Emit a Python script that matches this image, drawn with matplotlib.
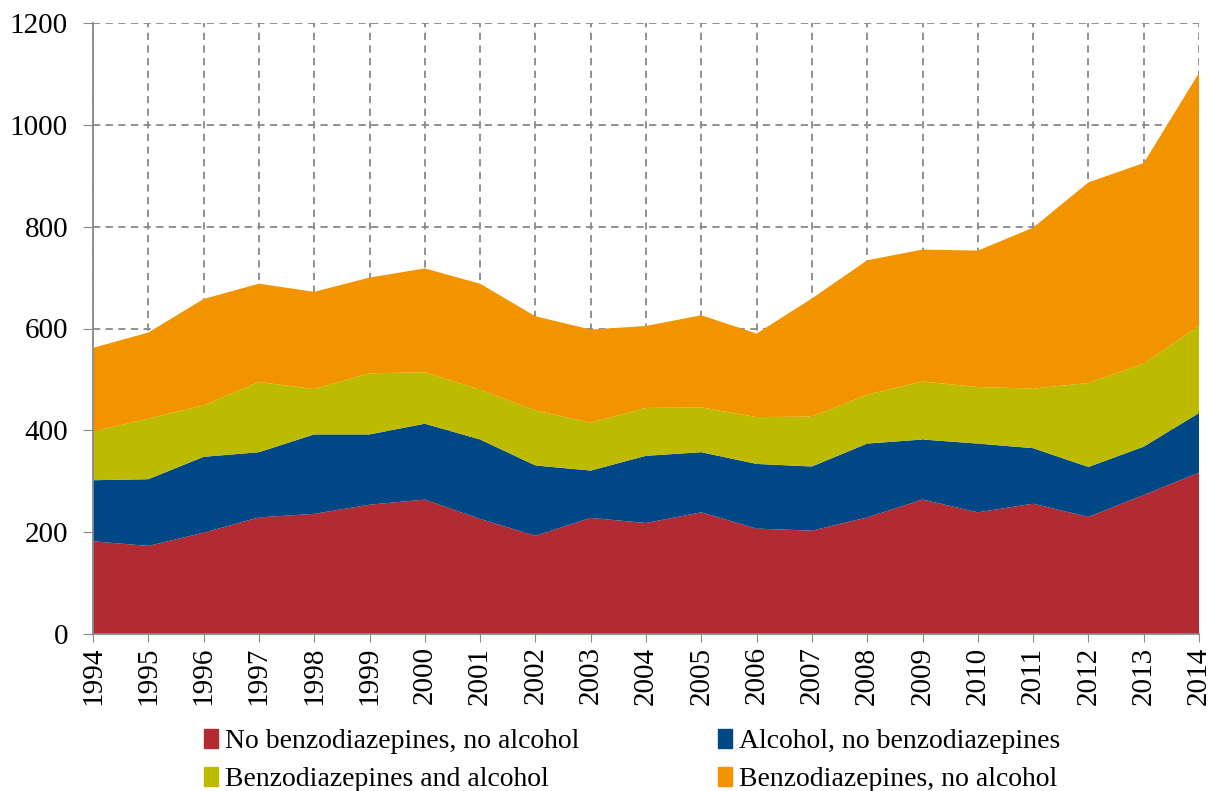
import matplotlib
matplotlib.use("Agg")
import matplotlib.pyplot as plt
from matplotlib.patches import Patch

years = list(range(1994, 2015))
no_benzo_no_alcohol = [182, 173, 199, 229, 236, 254, 264, 226, 193, 228, 218, 239, 207, 203, 229, 264, 239, 256, 230, 273, 317]
alcohol_no_benzo = [120, 131, 149, 128, 156, 138, 149, 156, 138, 93, 132, 118, 127, 126, 145, 118, 135, 109, 98, 95, 117]
benzo_and_alcohol = [96, 119, 101, 138, 89, 120, 101, 98, 108, 94, 94, 88, 92, 98, 96, 114, 111, 117, 165, 163, 171]
benzo_no_alcohol = [164, 169, 209, 193, 191, 188, 204, 208, 185, 183, 161, 181, 164, 232, 264, 259, 268, 316, 394, 394, 497]

labels = ["No benzodiazepines, no alcohol", "Alcohol, no benzodiazepines",
          "Benzodiazepines and alcohol", "Benzodiazepines, no alcohol"]
colors = ["#B22A32", "#004785", "#BDBB00", "#F29300"]

plt.rcParams['font.family'] = ['Liberation Serif', 'DejaVu Serif']

fig = plt.figure(figsize=(12.12, 7.91), dpi=100)
ax = fig.add_axes([93/1212, 1 - 634/791, (1199-93)/1212, (634-23)/791])

ax.stackplot(years, no_benzo_no_alcohol, alcohol_no_benzo, benzo_and_alcohol, benzo_no_alcohol,
             colors=colors, linewidth=0, zorder=2)

ax.set_xlim(1994, 2014)
ax.set_ylim(0, 1200)
ax.set_yticks(range(0, 1201, 200))
ax.set_xticks(years)
ax.set_xticklabels([str(y) for y in years], rotation=90, fontsize=21)
ax.tick_params(axis='y', labelsize=21, length=7, color='#888888', direction='out', pad=11)
ax.tick_params(axis='x', length=6, color='#888888', direction='out', pad=3)

ax.grid(True, linestyle=(0, (4, 3)), color='#888888', linewidth=1.3, zorder=1)
ax.set_axisbelow(True)
for s in ['top', 'right']:
    ax.spines[s].set_visible(False)
for s in ['left', 'bottom']:
    ax.spines[s].set_color('#888888')
    ax.spines[s].set_linewidth(1.3)

handles = [Patch(color=c) for c in colors]
order = [0, 2, 1, 3]
leg = fig.legend([handles[i] for i in order], [labels[i] for i in order],
                 ncol=2, loc='lower center', bbox_to_anchor=(0.5217, -0.033),
                 frameon=False, fontsize=20, handlelength=0.5, handleheight=0.7,
                 handletextpad=0.25, columnspacing=5.0, labelspacing=0.45)

fig.savefig("out.png", dpi=100)
